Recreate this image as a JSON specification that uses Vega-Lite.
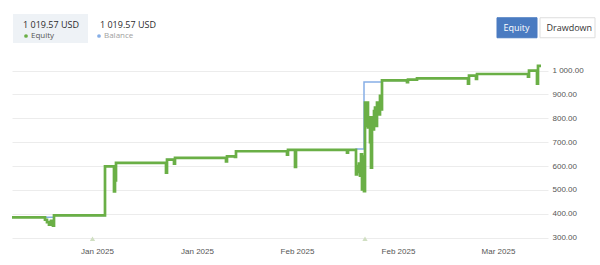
{
  "$schema": "https://vega.github.io/schema/vega-lite/v6.json",
  "width": 536,
  "height": 182,
  "autosize": {"type": "none"},
  "padding": {"left": 12, "top": 58, "right": 52, "bottom": 25},
  "background": "white",
  "title": {
    "text": "1 019.57 USD\u00a0\u00a0\u00a0\u00a0\u00a0\u00a0\u00a0\u00a0\u00a01 019.57 USD",
    "anchor": "start",
    "frame": "group",
    "dx": 11,
    "dy": 22.5,
    "offset": 0,
    "font": "Open Sans",
    "fontSize": 9,
    "fontWeight": "normal",
    "color": "#2b2b2b",
    "zindex": 2
  },
  "datasets": {
    "lines": [
      {"n": 0, "v": 385, "series": "Equity"},
      {"n": 33, "v": 375, "series": "Equity"},
      {"n": 35, "v": 365, "series": "Equity"},
      {"n": 37, "v": 354, "series": "Equity"},
      {"n": 39, "v": 370, "series": "Equity"},
      {"n": 41, "v": 350, "series": "Equity"},
      {"n": 42, "v": 393, "series": "Equity"},
      {"n": 93, "v": 599, "series": "Equity"},
      {"n": 102, "v": 494, "series": "Equity"},
      {"n": 103, "v": 540, "series": "Equity"},
      {"n": 104, "v": 613, "series": "Equity"},
      {"n": 154, "v": 572, "series": "Equity"},
      {"n": 155, "v": 627, "series": "Equity"},
      {"n": 162, "v": 610, "series": "Equity"},
      {"n": 163, "v": 634, "series": "Equity"},
      {"n": 214, "v": 620, "series": "Equity"},
      {"n": 215, "v": 641, "series": "Equity"},
      {"n": 223, "v": 638, "series": "Equity"},
      {"n": 224, "v": 662, "series": "Equity"},
      {"n": 275, "v": 648, "series": "Equity"},
      {"n": 276, "v": 668, "series": "Equity"},
      {"n": 283, "v": 596, "series": "Equity"},
      {"n": 284, "v": 668, "series": "Equity"},
      {"n": 335, "v": 656, "series": "Equity"},
      {"n": 336, "v": 668, "series": "Equity"},
      {"n": 344, "v": 565, "series": "Equity"},
      {"n": 345, "v": 600, "series": "Equity"},
      {"n": 346, "v": 575, "series": "Equity"},
      {"n": 347, "v": 610, "series": "Equity"},
      {"n": 348, "v": 560, "series": "Equity"},
      {"n": 349, "v": 649, "series": "Equity"},
      {"n": 350, "v": 502, "series": "Equity"},
      {"n": 351, "v": 640, "series": "Equity"},
      {"n": 352, "v": 495, "series": "Equity"},
      {"n": 353, "v": 866, "series": "Equity"},
      {"n": 354, "v": 768, "series": "Equity"},
      {"n": 355, "v": 866, "series": "Equity"},
      {"n": 356, "v": 762, "series": "Equity"},
      {"n": 357, "v": 804, "series": "Equity"},
      {"n": 358, "v": 700, "series": "Equity"},
      {"n": 359, "v": 593, "series": "Equity"},
      {"n": 360, "v": 804, "series": "Equity"},
      {"n": 361, "v": 754, "series": "Equity"},
      {"n": 362, "v": 830, "series": "Equity"},
      {"n": 363, "v": 845, "series": "Equity"},
      {"n": 364, "v": 768, "series": "Equity"},
      {"n": 365, "v": 866, "series": "Equity"},
      {"n": 366, "v": 820, "series": "Equity"},
      {"n": 367, "v": 817, "series": "Equity"},
      {"n": 368, "v": 894, "series": "Equity"},
      {"n": 369, "v": 838, "series": "Equity"},
      {"n": 370, "v": 959, "series": "Equity"},
      {"n": 395, "v": 952, "series": "Equity"},
      {"n": 396, "v": 962, "series": "Equity"},
      {"n": 405, "v": 968, "series": "Equity"},
      {"n": 456, "v": 945, "series": "Equity"},
      {"n": 457, "v": 979, "series": "Equity"},
      {"n": 464, "v": 965, "series": "Equity"},
      {"n": 465, "v": 986, "series": "Equity"},
      {"n": 516, "v": 975, "series": "Equity"},
      {"n": 517, "v": 1000, "series": "Equity"},
      {"n": 525, "v": 945, "series": "Equity"},
      {"n": 526, "v": 1019.57, "series": "Equity"},
      {"n": 529, "v": 1019.57, "series": "Equity"},
      {"n": 0, "v": 385, "series": "Balance"},
      {"n": 42, "v": 393, "series": "Balance"},
      {"n": 93, "v": 599, "series": "Balance"},
      {"n": 104, "v": 613, "series": "Balance"},
      {"n": 155, "v": 627, "series": "Balance"},
      {"n": 163, "v": 634, "series": "Balance"},
      {"n": 215, "v": 641, "series": "Balance"},
      {"n": 224, "v": 662, "series": "Balance"},
      {"n": 276, "v": 668, "series": "Balance"},
      {"n": 344, "v": 672, "series": "Balance"},
      {"n": 352, "v": 952, "series": "Balance"},
      {"n": 370, "v": 959, "series": "Balance"},
      {"n": 396, "v": 962, "series": "Balance"},
      {"n": 405, "v": 968, "series": "Balance"},
      {"n": 457, "v": 979, "series": "Balance"},
      {"n": 465, "v": 986, "series": "Balance"},
      {"n": 517, "v": 1000, "series": "Balance"},
      {"n": 526, "v": 1019.57, "series": "Balance"},
      {"n": 529, "v": 1019.57, "series": "Balance"}
    ],
    "markers": [
      {"n": 80.5, "v": 295},
      {"n": 353, "v": 295}
    ],
    "buttons": [
      {"button": "Equity"},
      {"button": "Drawdown"}
    ],
    "box": [
      {"box": "box"}
    ]
  },
  "layer": [
    {
      "data": {"name": "box"},
      "mark": {"type": "point", "filled": true, "opacity": 0, "color": "#eef2f6"},
      "encoding": {
        "shape": {
          "field": "box",
          "type": "nominal",
          "scale": {"domain": ["box"], "range": ["M-1,-1H14V4.8H-1Z"]},
          "legend": {
            "orient": "none",
            "legendX": 1,
            "legendY": -44,
            "title": null,
            "symbolSize": 100,
            "symbolStrokeWidth": 0,
            "symbolOpacity": 1,
            "labelExpr": "''",
            "labelFontSize": 1,
            "labelOffset": 0,
            "padding": 0,
            "zindex": 0,
            "encode": {
              "symbols": {"update": {"fill": {"value": "#eef2f6"}, "opacity": {"value": 1}, "stroke": {"value": "transparent"}}}
            }
          }
        }
      }
    },
    {
      "data": {"name": "buttons"},
      "mark": {"type": "point", "filled": true, "opacity": 0},
      "encoding": {
        "fill": {
          "field": "button",
          "type": "nominal",
          "scale": {"domain": ["Equity", "Drawdown"], "range": ["#4a7bc1", "#ffffff"]},
          "legend": {
            "orient": "none",
            "legendX": 484.5,
            "legendY": -51,
            "direction": "horizontal",
            "title": null,
            "symbolSize": 1600,
            "symbolStrokeWidth": 1,
            "symbolOpacity": 1,
            "labelFont": "Open Sans",
            "labelFontSize": 9,
            "labelOffset": -34,
            "columnPadding": -4,
            "padding": 0,
            "zindex": 2,
            "encode": {
              "symbols": {
                "update": {
                  "shape": {"signal": "datum.value === 'Equity' ? 'M-1,-0.5H1V0.5H-1Z' : 'M-1,-0.5H1.75V0.5H-1Z'"},
                  "stroke": {"signal": "datum.value === 'Equity' ? '#4a7bc1' : '#dddddd'"},
                  "opacity": {"value": 1}
                }
              },
              "labels": {
                "update": {"fill": {"signal": "datum.value === 'Equity' ? '#ffffff' : '#333333'"}}
              }
            }
          }
        }
      }
    },
    {
      "encoding": {
        "x": {
          "field": "n",
          "type": "quantitative",
          "scale": {"domain": [0, 536], "nice": false, "zero": false},
          "axis": {
            "values": [85, 185, 285, 386, 486],
            "labelExpr": "['Jan 2025','Jan 2025','Feb 2025','Feb 2025','Mar 2025'][indexof([85,185,285,386,486], datum.value)]",
            "grid": false,
            "ticks": false,
            "domain": false,
            "title": null,
            "labelFont": "Liberation Sans",
            "labelFontSize": 8,
            "labelColor": "#555555",
            "labelPadding": 7,
            "labelFlush": false,
            "labelOverlap": false
          }
        },
        "y": {
          "field": "v",
          "type": "quantitative",
          "scale": {"domain": [290, 1053], "nice": false, "zero": false},
          "axis": {
            "orient": "right",
            "values": [300, 400, 500, 600, 700, 800, 900, 1000],
            "grid": true,
            "gridColor": "#ececec",
            "ticks": false,
            "domain": false,
            "title": null,
            "labelAlign": "left",
            "labelPadding": 4,
            "labelFont": "Liberation Sans",
            "labelFontSize": 8,
            "labelColor": "#555555",
            "labelOverlap": false,
            "labelExpr": "replace(format(datum.value, ',.2f'), ',', ' ')"
          }
        }
      },
      "layer": [
        {
          "data": {"name": "lines"},
          "transform": [{"filter": "datum.series === 'Balance'"}],
          "mark": {"type": "line", "interpolate": "step-after", "strokeWidth": 1.5},
          "encoding": {
            "color": {
              "field": "series",
              "type": "nominal",
              "scale": {"domain": ["Equity", "Balance"], "range": ["#6aaf46", "#86aee6"]},
              "legend": {
                "orient": "none",
                "legendX": 10,
                "legendY": -26,
                "direction": "horizontal",
                "title": null,
                "symbolType": "circle",
                "symbolSize": 14,
                "symbolStrokeWidth": 0,
                "labelFont": "Open Sans",
                "labelFontSize": 8,
                "labelOffset": 1,
                "columnPadding": 40,
                "padding": 0,
                "zindex": 2,
                "encode": {
                  "symbols": {"update": {"fill": {"scale": "color", "field": "value"}, "stroke": {"value": "transparent"}}},
                  "labels": {"update": {"fill": {"signal": "datum.value === 'Equity' ? '#555555' : '#a0a0a0'"}}}
                }
              }
            }
          }
        },
        {
          "data": {"name": "lines"},
          "transform": [{"filter": "datum.series === 'Equity'"}],
          "mark": {"type": "line", "interpolate": "step-after", "strokeWidth": 2.7},
          "encoding": {
            "color": {"field": "series", "type": "nominal"}
          }
        },
        {
          "data": {"name": "markers"},
          "mark": {"type": "point", "shape": "triangle-up", "filled": true, "color": "#d0dfc2", "size": 28, "opacity": 1}
        }
      ]
    }
  ],
  "config": {"view": {"stroke": null}, "font": "Liberation Sans"}
}
